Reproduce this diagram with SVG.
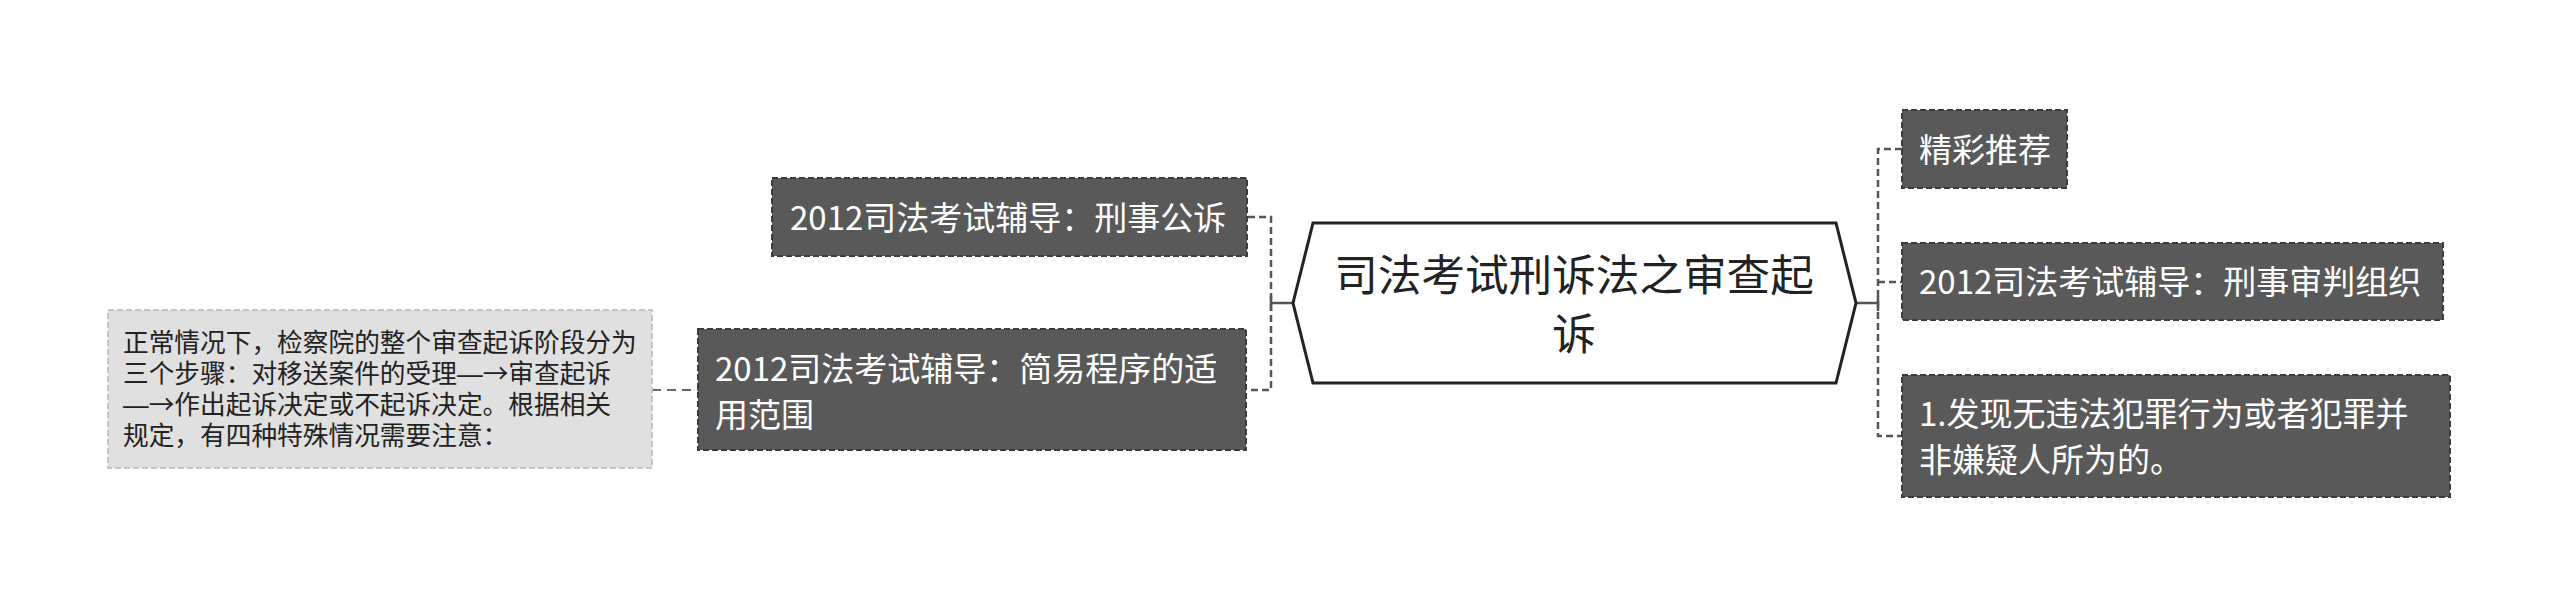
<svg xmlns="http://www.w3.org/2000/svg" width="2560" height="607" viewBox="0 0 2560 607">
<style>
text { font-family: "Noto Sans CJK SC", "Noto Sans", sans-serif; }
.dark rect { fill: #595959; stroke: #3c3c3c; stroke-width: 2; stroke-dasharray: 6 3; }
.dark text { fill: #ffffff; font-size: 33px; }
.note rect { fill: #e0e0e0; stroke: #c4c4c4; stroke-width: 2; stroke-dasharray: 6 3; }
.note text { fill: #222222; font-size: 25.7px; }
.note .em { font-family: "Liberation Sans", sans-serif; }
.center polygon { fill: #ffffff; stroke: #222222; stroke-width: 3; }
.center text { fill: #222222; font-size: 43.6px; text-anchor: middle; }
.conn path { fill: none; stroke: #555555; stroke-width: 2.5; }
.conn .dash { stroke-dasharray: 7 4; }
</style>
<rect width="2560" height="607" fill="#ffffff"/>
<g id="connectors" class="conn">
  <path class="solid" d="M1293 303 H1271 M1271 296 V311"/>
  <path class="dash" d="M1248 217 H1271 V390 H1248"/>
  <path class="solid" d="M1855 303 H1878 M1878 296 V311"/>
  <path class="dash" d="M1902 149 H1878 V436 H1902 M1878 282 H1902"/>
  <path class="dash" d="M652 390 H698" style="stroke:#666666;stroke-width:2;stroke-dasharray:9 6"/>
</g>
<g id="center" class="center">
  <polygon points="1293,303 1313,223 1836,223 1856,303 1836,383 1313,383"/>
  <text><tspan x="1574" y="291">司法考试刑诉法之审查起</tspan><tspan x="1574" y="350">诉</tspan></text>
</g>
<g id="left1" class="dark">
  <rect x="772" y="178" width="475" height="78"/>
  <text x="790" y="229.5">2012司法考试辅导：刑事公诉</text>
</g>
<g id="left2" class="dark">
  <rect x="698" y="329" width="548" height="121"/>
  <text><tspan x="715" y="380.5">2012司法考试辅导：简易程序的适</tspan><tspan x="715" y="426.5">用范围</tspan></text>
</g>
<g id="note" class="note">
  <rect x="108" y="310" width="544" height="158"/>
  <text><tspan x="123" y="352">正常情况下，检察院的整个审查起诉阶段分为</tspan><tspan x="123" y="383">三个步骤：对移送案件的受理<tspan class="em">—</tspan>→审查起诉</tspan><tspan x="123" y="414"><tspan class="em">—</tspan>→作出起诉决定或不起诉决定。根据相关</tspan><tspan x="123" y="445">规定，有四种特殊情况需要注意：</tspan></text>
</g>
<g id="right1" class="dark">
  <rect x="1902" y="110" width="165" height="78"/>
  <text x="1919" y="161.5">精彩推荐</text>
</g>
<g id="right2" class="dark">
  <rect x="1902" y="243" width="541" height="77"/>
  <text x="1919" y="294">2012司法考试辅导：刑事审判组织</text>
</g>
<g id="right3" class="dark">
  <rect x="1902" y="375" width="548" height="122"/>
  <text><tspan x="1919" y="425.5">1.发现无违法犯罪行为或者犯罪并</tspan><tspan x="1919" y="471.5">非嫌疑人所为的。</tspan></text>
</g>
</svg>
